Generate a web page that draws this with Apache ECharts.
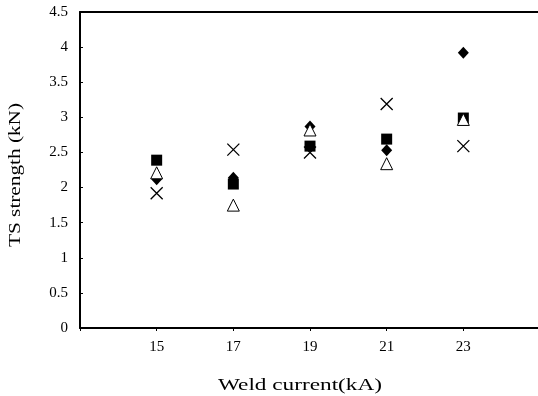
<!DOCTYPE html>
<html>
<head>
<meta charset="utf-8">
<script src="https://cdn.jsdelivr.net/npm/echarts@6/dist/echarts.min.js"></script>
<style>html,body{margin:0;padding:0;background:#fff;overflow:hidden;width:538px;height:396px}#c{width:570px;height:396px}</style>
</head>
<body>
<div id="c"></div>
<script>
var currents = [15, 17, 19, 21, 23];
var xTickLabels = [15, 17, 19, 21, 23];
var yTicks = [0, 0.5, 1, 1.5, 2, 2.5, 3, 3.5, 4, 4.5];
var squareVals = [2.39, 2.05, 2.59, 2.69, 2.99];
var diamondVals = [2.12, 2.14, 2.87, 2.53, 3.92];
var crossVals = [1.92, 2.54, 2.50, 3.19, 2.59];
var triangleVals = [2.21, 1.75, 2.82, 2.34, 2.97];
var xName = 'Weld current(kA)';
var yName = 'TS strength (kN)';

function pairs(vals) { return currents.map(function (c, i) { return [c, vals[i]]; }); }
var serif = '"Liberation Serif", "DejaVu Serif", serif';
var nameFont = '16px "Liberation Serif", serif';
var mctx = document.createElement('canvas').getContext('2d');
mctx.font = nameFont;
function fitScale(text, target) { return target / mctx.measureText(text).width; }

var chart = echarts.init(document.getElementById('c'));
chart.setOption({
  animation: false,
  backgroundColor: '#fff',
  grid: { left: 80, right: 30, top: 12, bottom: 68, outerBoundsMode: 'none', containLabel: false, show: false },
  xAxis: [{
    type: 'value', min: 13, max: 25,
    axisLine: { show: true, onZero: false, lineStyle: { color: '#000', width: 2 } },
    axisTick: { show: true, length: 3, lineStyle: { color: '#000' }, customValues: [13].concat(xTickLabels) },
    axisLabel: { fontFamily: serif, fontSize: 15, color: '#000', margin: 12, customValues: xTickLabels },
    splitLine: { show: false }
  }, {
    type: 'value', min: 13, max: 25, position: 'top',
    axisLine: { show: true, onZero: false, lineStyle: { color: '#000', width: 2 } },
    axisTick: { show: false }, axisLabel: { show: false }, splitLine: { show: false }
  }],
  yAxis: {
    type: 'value', min: 0, max: 4.5, interval: 0.5,
    axisLine: { show: true, lineStyle: { color: '#000', width: 2 } },
    axisTick: { show: true, inside: true, length: 3, lineStyle: { color: '#000' } },
    axisLabel: { fontFamily: serif, fontSize: 15, color: '#000', margin: 12, customValues: yTicks },
    splitLine: { show: false }
  },
  graphic: [
    { type: 'text', x: 300, y: 386, scaleX: fitScale(xName, 164),
      style: { text: xName, font: nameFont, fill: '#000', align: 'center', verticalAlign: 'middle' } },
    { type: 'text', x: 16, y: 175, rotation: Math.PI / 2, scaleX: fitScale(yName, 144),
      style: { text: yName, font: nameFont, fill: '#000', align: 'center', verticalAlign: 'middle' } }
  ],
  series: [
    { type: 'scatter', data: pairs(crossVals), symbol: 'path://M0,0L10,10M10,0L0,10', symbolSize: 12,
      itemStyle: { color: 'rgba(0,0,0,0)', borderColor: '#000', borderWidth: 1.3, opacity: 1 } },
    { type: 'scatter', data: pairs(squareVals), symbol: 'rect', symbolSize: 11, itemStyle: { color: '#000', opacity: 1 } },
    { type: 'scatter', data: pairs(diamondVals), symbol: 'diamond', symbolSize: [11, 12], itemStyle: { color: '#000', opacity: 1 } },
    { type: 'scatter', data: pairs(triangleVals), symbol: 'triangle', symbolSize: [12, 12],
      itemStyle: { color: '#fff', borderColor: '#000', borderWidth: 1, opacity: 1 } }
  ]
});
</script>
</body>
</html>
